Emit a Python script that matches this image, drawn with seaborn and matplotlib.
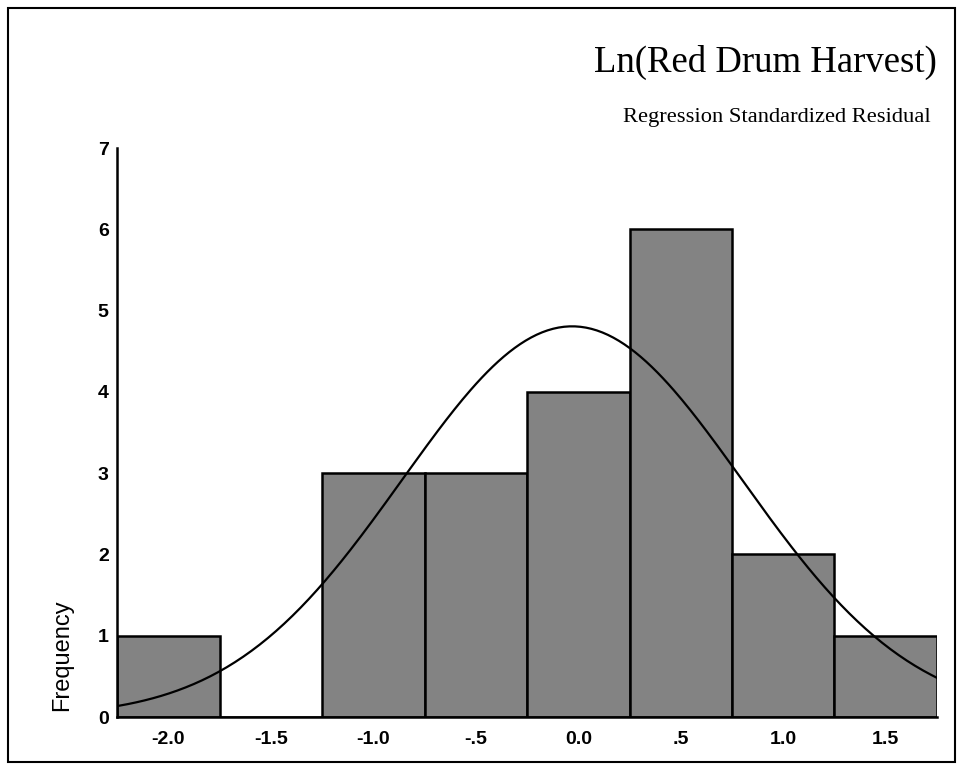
import numpy as np
import pandas as pd
import matplotlib
matplotlib.use("Agg")
import matplotlib.pyplot as plt
import seaborn as sns
from matplotlib.patches import Rectangle

# bin centres and counts
bin_centers = [-2.0, -1.5, -1.0, -0.5, 0.0, 0.5, 1.0, 1.5]
counts = [1, 0, 3, 3, 4, 6, 2, 1]
tick_labels = ["-2.0", "-1.5", "-1.0", "-.5", "0.0", ".5", "1.0", "1.5"]

# fitted normal curve parameters
curve_mean = -0.03
curve_sd = 0.83
n_obs = sum(counts)
bin_width = 0.5

sns.set_theme(style="white")
plt.rcParams["font.family"] = ["Liberation Sans", "DejaVu Sans"]
plt.rcParams["text.color"] = "black"
plt.rcParams["xtick.color"] = "black"
plt.rcParams["ytick.color"] = "black"

df = pd.DataFrame({"resid": bin_centers, "n": counts})

fig = plt.figure(figsize=(9.63, 7.71), dpi=100)
ax = fig.add_axes([0.1215, 0.070, 0.8515, 0.738])

sns.histplot(data=df, x="resid", weights="n", binwidth=bin_width,
             binrange=(-2.25, 1.75), ax=ax,
             color="#838383", edgecolor="black", linewidth=1.8, alpha=1)

xs = np.linspace(-2.25, 1.75, 300)
ys = n_obs * bin_width / (curve_sd * np.sqrt(2 * np.pi)) * np.exp(-0.5 * ((xs - curve_mean) / curve_sd) ** 2)
sns.lineplot(x=xs, y=ys, ax=ax, color="black", linewidth=1.6)

ax.set_xlim(-2.25, 1.75)
ax.set_ylim(0, 7)
ax.set_xticks(bin_centers)
ax.set_xticklabels(tick_labels)
ax.set_yticks(range(0, 8))
ax.tick_params(axis="both", labelsize=14, length=4, width=2.5, direction="out")
ax.tick_params(axis="x", pad=6)
ax.tick_params(axis="y", length=3, pad=3)
for lab in ax.get_xticklabels() + ax.get_yticklabels():
    lab.set_fontweight("bold")
for s in ["top", "right"]:
    ax.spines[s].set_visible(False)
for s in ["left", "bottom"]:
    ax.spines[s].set_color("black")
    ax.spines[s].set_linewidth(1.8)
ax.set_xlabel("")
ax.set_ylabel("")

fig.text(0.065, 0.150, "Frequency", rotation=90, fontsize=17,
         ha="center", va="center")

fig.text(0.973, 0.919, "Ln(Red Drum Harvest)", fontsize=26.5,
         family=["Liberation Serif", "DejaVu Serif"], ha="right", va="center")
fig.text(0.966, 0.848, "Regression Standardized Residual", fontsize=16.2,
         family=["Liberation Serif", "DejaVu Serif"], ha="right", va="center")

fig.patches.append(Rectangle((0.008, 0.012), 0.984, 0.978, transform=fig.transFigure,
                             fill=False, edgecolor="black", linewidth=1.5))

plt.savefig("out.png", dpi=100)
